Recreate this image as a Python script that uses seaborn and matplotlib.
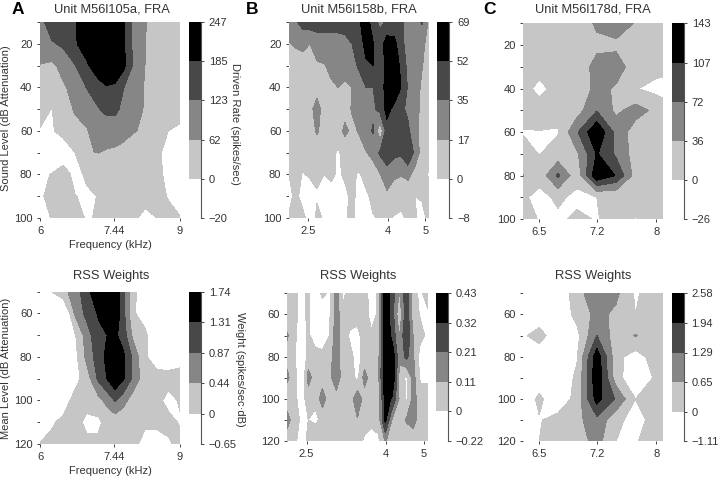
import numpy as np
import matplotlib
matplotlib.use("Agg")
import matplotlib.pyplot as plt
import seaborn as sns

# columns (kHz) and rows (dB) of the response maps
freq_a_top = [6.0, 6.206, 6.419, 6.640, 6.868, 7.104, 7.278, 7.456, 7.638, 7.862, 8.132, 8.412, 8.701, 9.0]
freq_a_bot = [6.0, 6.206, 6.419, 6.640, 6.868, 7.104, 7.278, 7.456, 7.638, 7.862, 8.132, 8.412, 8.701, 9.0]
freq_b = [2.231, 2.325, 2.424, 2.526, 2.633, 2.744, 2.861, 2.981, 3.108, 3.239, 3.376,
          3.519, 3.668, 3.823, 3.984, 4.153, 4.328, 4.511, 4.702, 4.901, 5.118]
freq_c = [6.32, 6.5, 6.72, 6.95, 7.2, 7.45, 7.71, 7.99, 8.1]
sound_level = [10, 20, 30, 40, 50, 60, 70, 80, 90, 100]
mean_level = [50, 60, 70, 80, 90, 100, 110, 120]

fra_a = [
    [100, 160, 170, 180, 230, 240, 245, 240, 195, 110, 65, 40, 30, 30],
    [90, 115, 135, 175, 230, 178, 240, 240, 195, 110, 63, 40, 35, 35],
    [60, 50, 80, 120, 170, 240, 246, 240, 205, 115, 62, 38, 35, 35],
    [45, 40, 55, 80, 125, 150, 180, 172, 125, 90, 58, 35, 30, 30],
    [30, -2, 35, 68, 80, 120, 135, 135, 110, 90, 56, 30, 20, 10],
    [-5, -3, 10, 45, 58, 90, 95, 95, 80, 65, 55, 18, 0, -5],
    [-15, -20, -20, 0, 60, 63, 55, 50, 45, 38, 25, 5, -8, -10],
    [-5, 1, 15, -10, 5, 0, 20, 22, 25, 25, 15, 3, -3, -8],
    [-5, 10, 8, 1, -5, 1, 20, 22, 25, 25, 10, 5, -1, -8],
    [-10, 1, 6, 4, -1, 1, 20, 20, 22, 5, -8, 0, 4, 1],
]
fra_b = [
    [28, 33, 42, 45, 45, 42, 42, 40, 42, 45, 50, 60, 44, 30, 38, 40, 38, 30, 28, 37, 12],
    [16, 20, 22, 17, 24, 28, 28, 30, 30, 35, 40, 60, 53, 45, 60, 58, 40, 28, 28, 20, 12],
    [-2, 5, 8, 12, 15, 16, 20, 22, 24, 28, 38, 48, 52, 40, 58, 65, 48, 30, 25, 18, 8],
    [6, 8, 8, 10, 10, 12, 15, 17, 14, 17, 25, 35, 35, 42, 60, 65, 52, 33, 25, 14, 6],
    [8, 8, 10, 12, 24, 10, 9, 10, 12, 18, 25, 27, 30, 42, 57, 48, 38, 32, 24, 12, 7],
    [8, 8, 10, 10, 19, 10, 10, 12, 20, 14, 18, 27, 37, 2, 46, 46, 42, 38, 24, 10, -1],
    [5, 7, 7, 8, 8, 9, 7, -3, 8, 10, 12, 16, 22, 38, 42, 40, 38, 52, 30, 8, 5],
    [0, 4, -1, 2, 2, 0, 3, -2, 2, 3, -2, 6, 8, 16, 30, 20, 18, 22, 10, 6, -2],
    [-3, 3, -5, -8, -1, -5, -6, -8, -3, 3, -4, -3, 4, 8, 12, 8, 4, 3, 0, 1, 4],
    [1, 3, 3, -6, 2, -1, -6, -8, -1, 2, -4, -3, -1, 1, 3, -1, -2, 2, 1, -3, 3],
]
fra_c = [
    [15, 15, 15, 20, 40, 50, 34, 15, 15],
    [12, 12, 12, 12, 30, 30, 15, 12, 12],
    [12, 12, -1, 20, 45, 50, 20, 12, 10],
    [10, -8, 10, 15, 45, 32, 2, -10, -12],
    [12, 12, 8, 20, 70, 28, 50, 28, 15],
    [-2, -1, -2, 68, 140, 60, 18, 12, 12],
    [12, -1, 12, 30, 110, 65, 20, 12, 12],
    [37, 12, 78, 12, 135, 105, 20, 10, 10],
    [5, -10, 6, -8, 0, 1, 12, 10, 10],
    [8, -1, -6, 6, -2, 12, -1, 10, 10],
]
rss_a = [
    [-0.1, 0, 0.3, 0.65, 1.15, 1.7, 1.73, 1.6, 1.0, 0.1, -0.3, -0.3, -0.3, -0.3],
    [-0.4, -0.5, -0.6, 0.5, 1.0, 1.35, 1.73, 1.7, 1.0, 0.05, -0.2, -0.3, -0.3, -0.3],
    [-0.4, -0.5, -0.4, -0.05, 0.65, 1.2, 1.3, 1.4, 1.1, 0.3, 0.1, -0.4, -0.4, -0.4],
    [-0.5, -0.5, -0.4, -0.15, 0.55, 1.1, 1.4, 1.6, 1.4, 0.75, 0.05, -0.2, -0.2, -0.1],
    [-0.5, -0.4, -0.3, -0.15, 0.2, 0.95, 1.3, 1.7, 1.35, 0.75, 0.15, 0.15, 0.12, 0.1],
    [-0.4, -0.3, -0.2, 0.15, 0.15, 0.3, 0.55, 0.9, 0.6, 0.2, 0.1, 0.1, -0.1, 0.03],
    [-0.3, -0.05, 0.1, 0.15, -0.1, -0.1, 0.15, 0.15, 0.1, 0.08, 0.05, 0.05, 0.1, -0.03],
    [0.02, 0.1, 0.1, 0.1, 0.1, 0.1, 0.1, 0.1, 0.1, 0.08, -0.1, -0.1, -0.05, 0.1],
]
rss_b = [
    [0.05, 0.05, -0.05, 0.03, -0.1, 0.03, -0.02, 0.15, -0.02, 0.05, 0.05, 0.05, -0.05, 0.02, 0.42, 0.25, 0.1, 0.28, 0.03, -0.02, 0.05],
    [0.05, 0.04, -0.05, 0.03, -0.1, -0.1, -0.02, 0.17, 0.02, 0.05, 0.06, 0.06, -0.05, 0.02, 0.42, 0.25, 0.03, 0.28, 0.05, -0.01, -0.02],
    [0.12, 0.04, -0.1, 0.03, -0.1, -0.1, 0, 0.17, 0.05, -0.02, -0.05, 0.08, 0.02, 0.05, 0.42, 0.28, 0.1, 0.32, 0.1, 0.03, -0.02],
    [0.08, 0.02, -0.15, 0.05, 0.08, 0.05, 0.07, 0.17, 0.05, 0.03, -0.05, 0.05, 0.05, 0.08, 0.42, 0.4, 0.13, 0.24, 0.12, -0.05, -0.05],
    [0.13, 0.05, -0.1, 0.15, 0.06, 0.05, 0.07, 0.2, 0.03, 0.05, -0.03, 0.15, 0.06, 0.09, 0.42, 0.42, 0.08, -0.02, 0.15, -0.02, -0.02],
    [0.05, 0.03, -0.05, 0.05, 0.03, 0.17, 0.05, 0.05, 0.03, 0.05, 0.2, 0.06, 0.08, 0.03, 0.38, 0.3, 0.1, -0.02, 0.15, 0.05, 0.05],
    [0.15, 0.05, -0.02, 0, -0.03, 0.03, 0.05, 0.03, 0.06, 0.07, 0.1, 0.05, 0.02, 0.04, 0.35, 0.09, 0.06, 0.12, 0.15, 0.05, 0.05],
    [0.05, 0.05, -0.1, 0.05, 0.11, 0.05, 0.04, 0.05, 0.02, 0.05, 0.05, -0.02, -0.03, -0.02, 0.12, 0.05, 0.05, 0.05, 0.05, 0.05, 0.05],
]
rss_c = [
    [-0.3, -0.5, -0.5, 0.35, 1.2, 0.8, -0.1, 0.4, 0.4],
    [-0.5, -0.5, -0.5, 0.2, 0.85, 0.5, 0, 0.4, 0.4],
    [-0.1, 0.3, -0.5, -0.2, 1.3, 0.3, 0.68, 0.4, 0.4],
    [-0.5, -0.5, -0.5, -0.05, 2.35, 0.2, -0.3, 0.3, 0.3],
    [-0.5, -0.4, -0.4, 0.1, 2.45, 0.3, -0.6, 0.1, 0.3],
    [-0.5, 0.15, -0.5, 0.25, 2.2, 1.2, 0, 0.3, 0.3],
    [-0.5, -0.05, 0.25, 0.45, 1.1, 0.2, -0.3, 0.3, 0.3],
    [-0.5, 0, 0.25, 0.3, 0.9, 0, -0.05, 0.3, 0.3],
]

levels_fra_a = [-20, 0, 62, 123, 185, 247]
levels_fra_b = [-8, 0, 17, 35, 52, 69]
levels_fra_c = [-26, 0, 36, 72, 107, 143]
levels_rss_a = [-0.65, 0, 0.44, 0.87, 1.31, 1.74]
levels_rss_b = [-0.22, 0, 0.11, 0.21, 0.32, 0.43]
levels_rss_c = [-1.11, 0, 0.65, 1.29, 1.94, 2.58]

xticks_a = [6, 7.44, 9]
xticks_b = [2.5, 4, 5]
xticks_c = [6.5, 7.2, 8]

W, H = 720, 478
TEXT = "#333333"

sns.set_theme(style="ticks", font="Liberation Sans")
grays = sns.color_palette(["#ffffff", "#c6c6c6", "#868686", "#484848", "#000000"])

fig = plt.figure(figsize=(W / 100, H / 100), dpi=100)


def px_axes(x0, y0, x1, y1):
    return fig.add_axes([x0 / W, 1 - y1 / H, (x1 - x0) / W, (y1 - y0) / H])


def put(x, y, s, **kw):
    fig.text(x / W, 1 - y / H, s, color=TEXT, ha="center", va="center", **kw)


def panel(box, cbox, freq, rows, z, levels, xticks):
    ax = px_axes(*box)
    cs = ax.contourf(freq, rows, np.array(z, dtype=float), levels=levels, colors=grays)
    ax.set_xscale("log")
    ax.set_xlim(freq[0], freq[-1])
    ax.set_ylim(rows[-1], rows[0])
    ax.set_xticks(xticks)
    ax.set_xticklabels([str(t) for t in xticks])
    ax.set_xticks([], minor=True)
    ax.set_yticks(rows)
    ax.set_yticklabels([str(r) if r % 20 == 0 else "" for r in rows])
    ax.tick_params(length=2.5, width=0.7, color="#444444", labelcolor=TEXT, labelsize=8, pad=3)
    ax.set_facecolor("white")
    sns.despine(ax=ax, left=True, bottom=True)

    cax = px_axes(*cbox)
    cb = fig.colorbar(cs, cax=cax, ticks=levels, spacing="uniform")
    cb.set_ticklabels([f"{v:g}".replace("-", "\u2212") for v in levels])
    cb.outline.set_visible(False)
    cax.spines["right"].set_visible(True)
    cax.spines["right"].set_color("#555555")
    cax.spines["right"].set_linewidth(0.8)
    cax.tick_params(length=2.5, width=0.7, color="#444444", labelcolor=TEXT, labelsize=8, pad=3)
    return ax


panel((40, 22, 180, 218), (188.5, 22, 201, 218), freq_a_top, sound_level, fra_a, levels_fra_a, xticks_a)
panel((289, 22, 429.3, 218), (437.3, 22, 449.3, 218), freq_b, sound_level, fra_b, levels_fra_b, xticks_b)
panel((523.3, 23.5, 663.3, 219), (672, 23.5, 684, 219), freq_c, sound_level, fra_c, levels_fra_c, xticks_c)
panel((40, 291.7, 180, 444), (188.5, 291.7, 201, 444), freq_a_bot, mean_level, rss_a, levels_rss_a, xticks_a)
panel((287.3, 293.3, 427.7, 441), (436, 293.3, 448, 441), freq_b, mean_level, rss_b, levels_rss_b, xticks_b)
panel((523.3, 293.3, 663.3, 441.3), (671.7, 293.3, 683.7, 441.3), freq_c, mean_level, rss_c, levels_rss_c, xticks_c)

put(112, 9.5, "Unit M56l105a, FRA", fontsize=9.3)
put(359, 9.5, "Unit M56l158b, FRA", fontsize=9.3)
put(593, 10, "Unit M56l178d, FRA", fontsize=9.3)
put(110.7, 276, "RSS Weights", fontsize=9.3)
put(357.7, 276, "RSS Weights", fontsize=9.3)
put(593, 276, "RSS Weights", fontsize=9.3)

for x, s in [(18, "A"), (252.5, "B"), (490, "C")]:
    fig.text(x / W, 1 - 9.5 / H, s, color="black", ha="center", va="center", fontsize=12.5, fontweight="bold")

put(110, 245, "Frequency (kHz)", fontsize=8)
put(110, 471.5, "Frequency (kHz)", fontsize=8)
put(6.5, 118, "Sound Level (dB Attenuation)", fontsize=8, rotation=90)
put(6.5, 368, "Mean Level (dB Attenuation)", fontsize=8, rotation=90)
put(235, 124, "Driven Rate (spikes/sec)", fontsize=8, rotation=270)
put(240, 369, "Weight (spikes/sec\u00b7dB)", fontsize=8, rotation=270)

fig.savefig("out.png", dpi=100)
